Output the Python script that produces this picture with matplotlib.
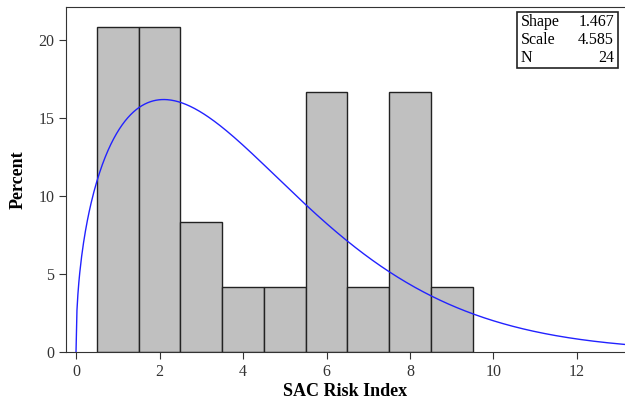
import numpy as np
import matplotlib
matplotlib.use("Agg")
import matplotlib.pyplot as plt

plt.rcParams['font.family'] = ['Liberation Serif', 'DejaVu Serif']

# histogram: bin midpoints and percent of N=24
bin_mid = [1, 2, 3, 4, 5, 6, 7, 8, 9]
percent = [20.833, 20.833, 8.333, 4.167, 4.167, 16.667, 4.167, 16.667, 4.167]

# fitted weibull parameters shown in the inset
shape = 1.467
scale = 4.585
n_obs = 24

fig = plt.figure(figsize=(6.25, 4.05), dpi=100)
ax = fig.add_axes([0.1056, 0.131, 0.8944, 0.852])

ax.bar(bin_mid, percent, width=1.0, color='#c0c0c0', edgecolor='#222222', linewidth=1.0, zorder=2)

x = np.linspace(0, 13.5, 600)
dens = shape / scale * (x / scale) ** (shape - 1) * np.exp(-(x / scale) ** shape)
ax.plot(x, dens * 100, color='#2222ff', lw=1.0, zorder=3)

ax.set_xlim(-0.24, 13.15)
ax.set_ylim(0, 22.1)
ax.set_xticks([0, 2, 4, 6, 8, 10, 12])
ax.set_yticks([0, 5, 10, 15, 20])
ax.spines['right'].set_visible(False)
for s in ['left', 'top', 'bottom']:
    ax.spines[s].set_color('#333333')
ax.tick_params(direction='out', length=5, labelsize=11.5, colors='#333333')

ax.set_xlabel('SAC Risk Index', fontsize=13, fontweight='bold', labelpad=2)
ax.set_ylabel('Percent', fontsize=13, fontweight='bold', labelpad=8)

# inset table with the fit parameters
rows = [('Shape', '%.3f' % shape), ('Scale', '%.3f' % scale), ('N', str(n_obs))]
bx0, bx1 = 0.807, 0.9875
ax.add_patch(plt.Rectangle((bx0, 0.823), bx1 - bx0, 0.1625, transform=ax.transAxes,
                           fill=False, edgecolor='#222222', lw=1.2, zorder=5))
for i, (k, v) in enumerate(rows):
    yy = 0.957 - i * 0.052
    ax.text(bx0 + 0.007, yy, k, transform=ax.transAxes, fontsize=11.5, va='center', ha='left')
    ax.text(bx1 - 0.007, yy, v, transform=ax.transAxes, fontsize=11.5, va='center', ha='right')

fig.savefig('out.png', dpi=100)
